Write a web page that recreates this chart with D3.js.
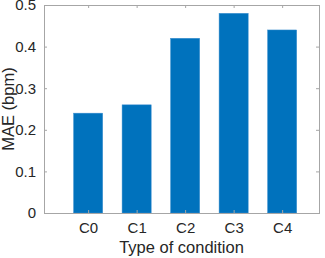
<!DOCTYPE html>
<html>
<head>
<meta charset="utf-8">
<script src="https://cdn.jsdelivr.net/npm/d3@7"></script>
<style>
body { margin: 0; background: #fff; }
text { font-family: "Liberation Sans", Arial, Helvetica, sans-serif; fill: #262626; }
</style>
</head>
<body>
<svg id="main" width="325" height="258"></svg>
<script>
var categories = ["C0", "C1", "C2", "C3", "C4"];
var maeValues = [0.24, 0.26, 0.42, 0.48, 0.44];
var yTicks = [0, 0.1, 0.2, 0.3, 0.4, 0.5];

window.onload = function() {
var svg = d3.select("#main");
var left = 44, right = 319, top = 5, bottom = 213;

// bars sit at 1..5, the box starts a bit before the first one
var x = d3.scaleLinear().domain([0.09, 5.76]).range([left, right]);
var y = d3.scaleLinear().domain([0, 0.5]).range([bottom, top]);
var barW = x(1.6) - x(1);

// bars
svg.selectAll("rect.bar")
	.data(maeValues)
	.enter().append("rect")
	.attr("class", "bar")
	.attr("x", function(d, i) { return x(i + 1) - barW / 2; })
	.attr("y", function(d) { return y(d); })
	.attr("width", barW)
	.attr("height", function(d) { return y(0) - y(d); })
	.attr("fill", "#0072BD")
	.attr("stroke", "#3d8fd0")
	.attr("stroke-width", 0.5);

// axes, ticks pointing inward like matlab
var tickLen = 3;
var xAxis = d3.axisBottom(x)
	.tickValues(d3.range(1, categories.length + 1))
	.tickFormat(function(d) { return categories[d - 1]; })
	.tickSizeInner(-tickLen).tickSizeOuter(0).tickPadding(9);
var gx = svg.append("g").attr("transform", "translate(0," + bottom + ")").call(xAxis);

var yAxis = d3.axisLeft(y)
	.tickValues(yTicks)
	.tickFormat(function(d) { return d === 0 ? "0" : d3.format(".1f")(d); })
	.tickSizeInner(-tickLen).tickSizeOuter(0).tickPadding(8);
var gy = svg.append("g").attr("transform", "translate(" + left + ",0)").call(yAxis);

var xTop = d3.axisTop(x).tickValues(d3.range(1, categories.length + 1))
	.tickFormat("").tickSizeInner(-tickLen).tickSizeOuter(0);
var gxt = svg.append("g").attr("transform", "translate(0," + top + ")").call(xTop);

var yRight = d3.axisRight(y).tickValues(yTicks)
	.tickFormat("").tickSizeInner(-tickLen).tickSizeOuter(0);
var gyr = svg.append("g").attr("transform", "translate(" + right + ",0)").call(yRight);

[gx, gy, gxt, gyr].forEach(function(g) {
	g.select(".domain").remove();
	g.selectAll(".tick line").attr("stroke", "#a6a6a6");
	g.selectAll("text").attr("font-size", 15).attr("fill", "#262626")
		.attr("font-family", "Liberation Sans, Arial, sans-serif");
});

// box
svg.append("rect")
	.attr("x", left + 0.5).attr("y", top + 0.5)
	.attr("width", right - left).attr("height", bottom - top)
	.attr("fill", "none").attr("stroke", "#a6a6a6").attr("stroke-width", 1);

// labels
svg.append("text")
	.attr("x", (left + right) / 2).attr("y", 253)
	.attr("text-anchor", "middle").attr("font-size", 16.5)
	.text("Type of condition");

svg.append("text")
	.attr("transform", "translate(13.5," + (top + bottom) / 2 + ") rotate(-90)")
	.attr("text-anchor", "middle").attr("font-size", 16.5)
	.text("MAE (bpm)");
}
</script>
</body>
</html>
